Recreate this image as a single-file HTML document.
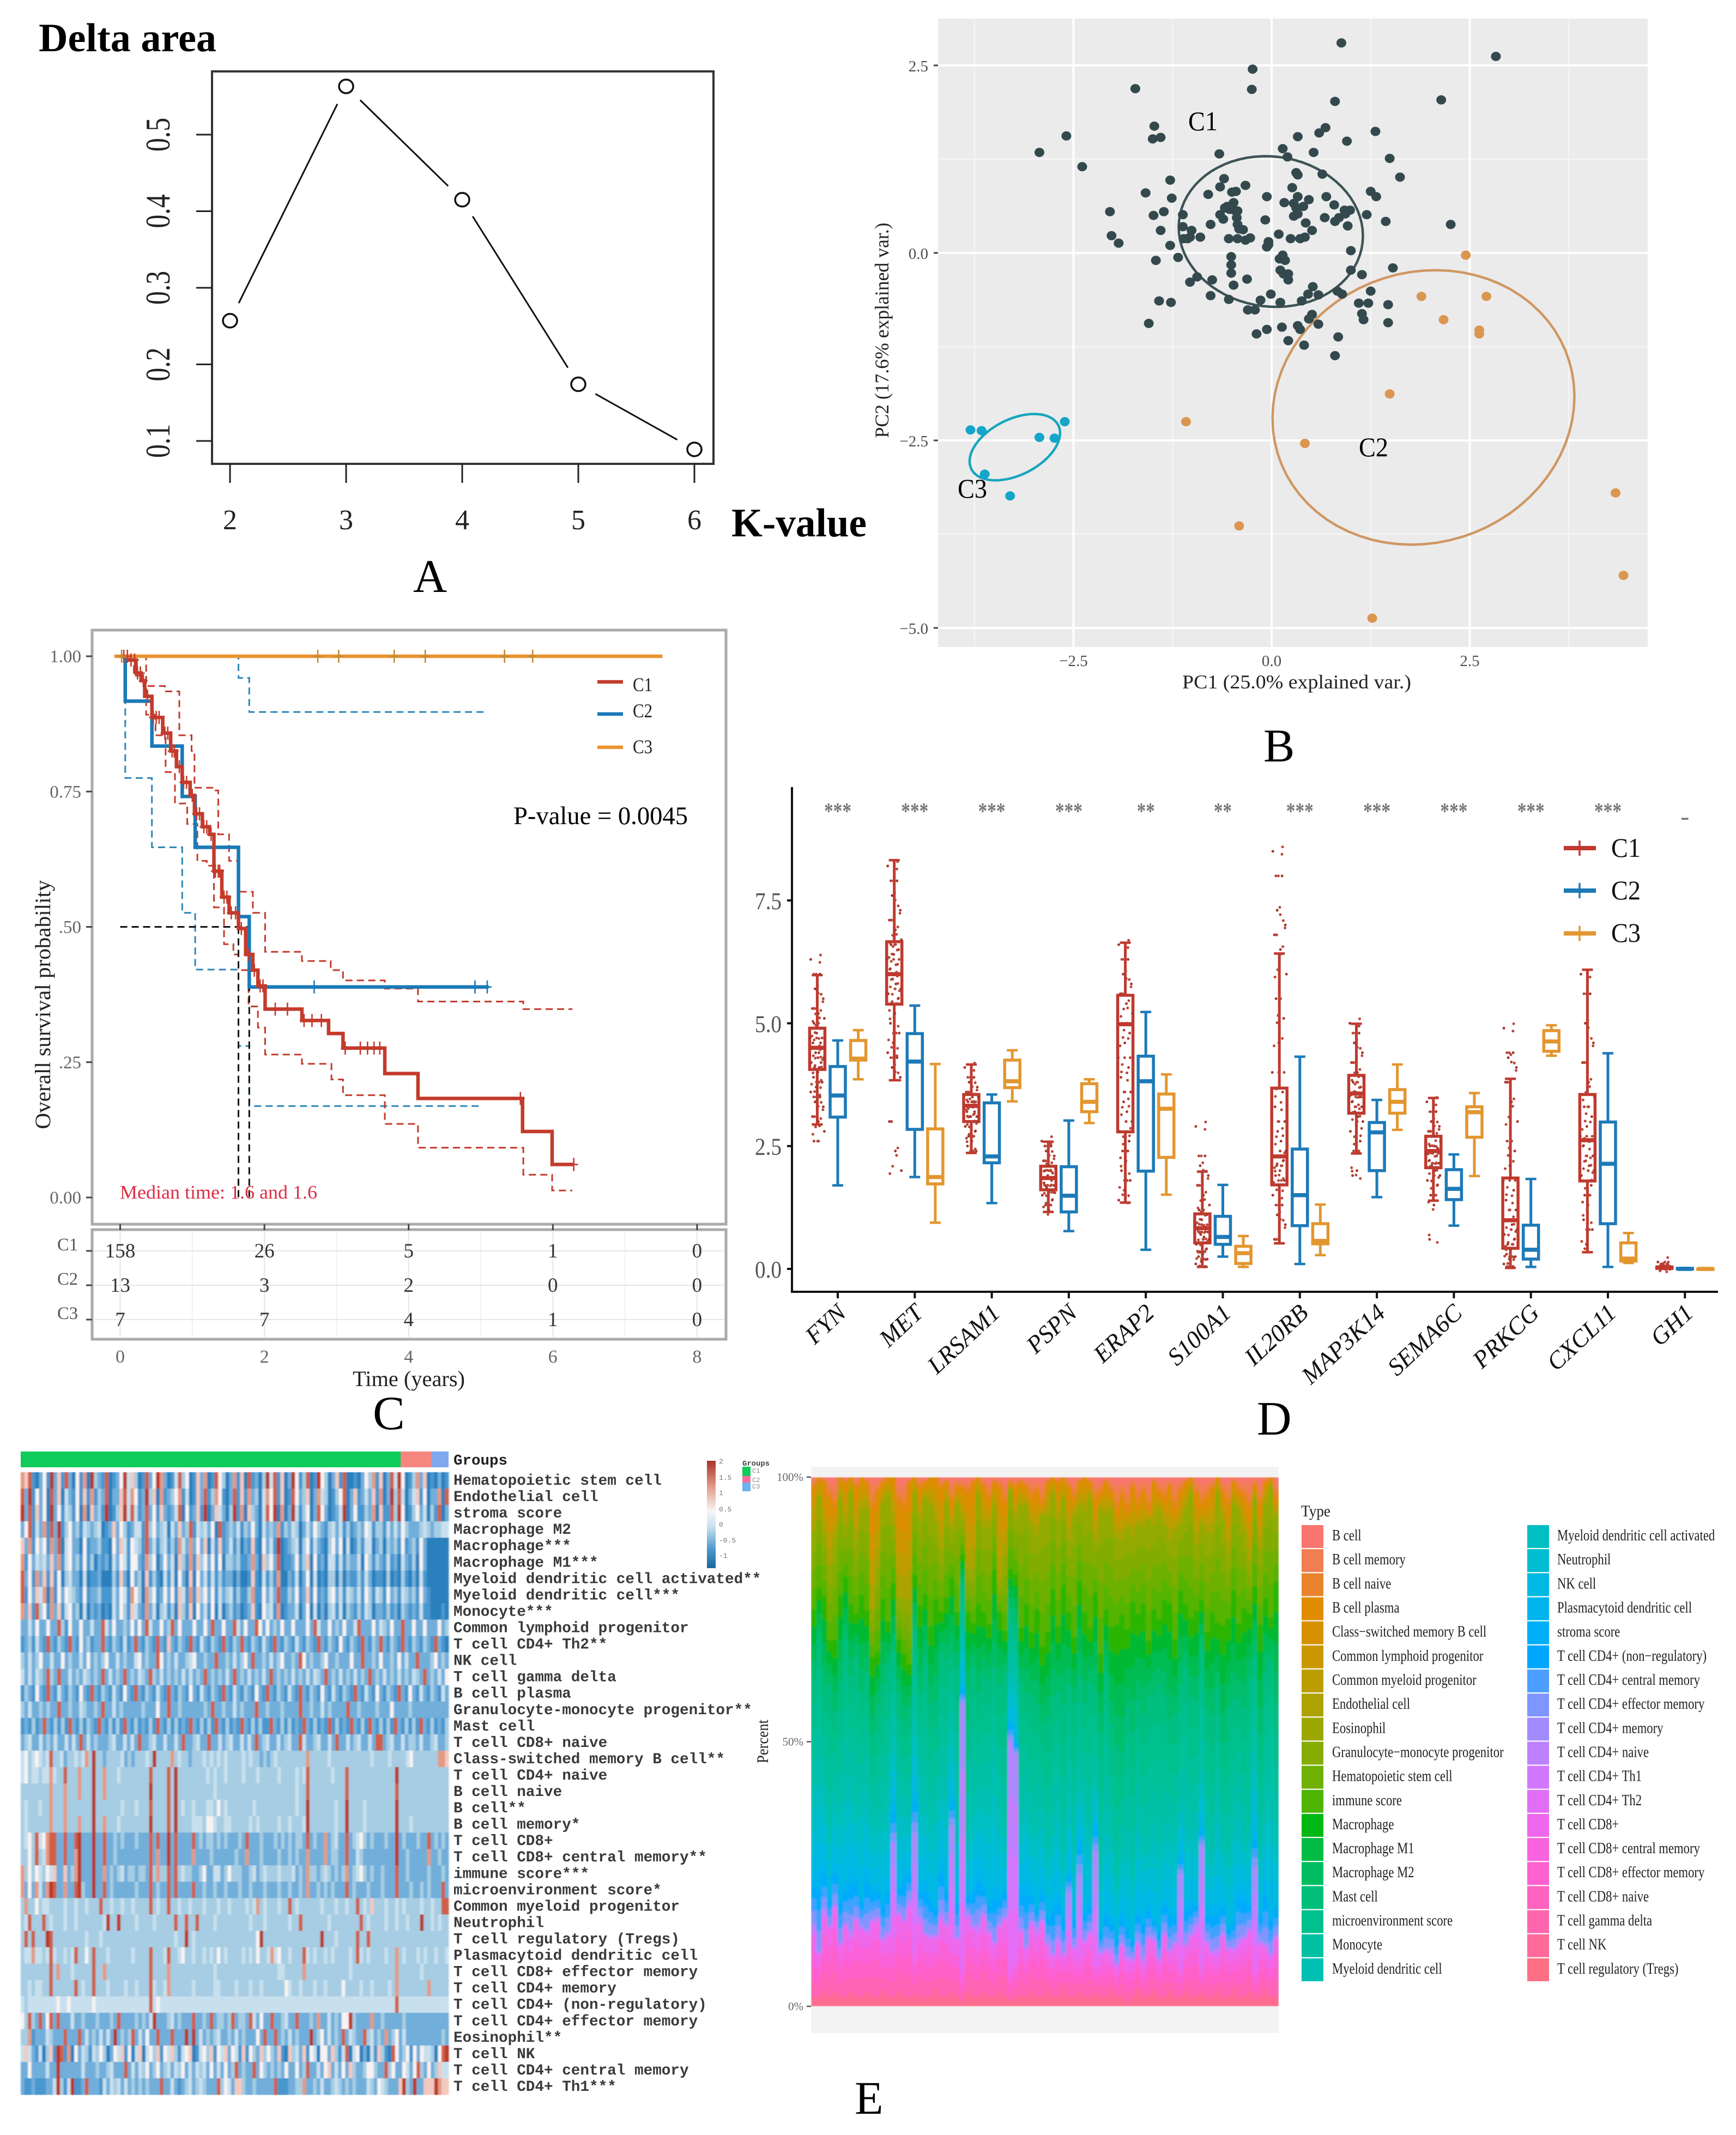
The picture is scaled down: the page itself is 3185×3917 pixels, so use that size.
<!DOCTYPE html>
<html lang="en">
<head>
<meta charset="utf-8">
<title>Five-panel cluster analysis figure</title>
<style>
html,body{margin:0;padding:0;background:#fff}
svg{display:block}
text{font-family:"Liberation Serif",serif}
</style>
</head>
<body>
<svg id="fig" xmlns="http://www.w3.org/2000/svg" width="3185" height="3917" viewBox="0 0 3185 3917">
<defs>
<filter id="soft" x="-2%" y="-2%" width="104%" height="104%"><feGaussianBlur stdDeviation="1.3 0.4"/></filter>
<filter id="soft2" x="-1%" y="-1%" width="102%" height="102%"><feGaussianBlur stdDeviation="1.2 1.5"/></filter>
<linearGradient id="cbar" x1="0" y1="0" x2="0" y2="1">
<stop offset="0" stop-color="#a83428"/><stop offset=".24" stop-color="#e09a88"/><stop offset=".47" stop-color="#f8f6f6"/><stop offset=".62" stop-color="#c6dfee"/><stop offset=".82" stop-color="#4f9acb"/><stop offset="1" stop-color="#17689f"/>
</linearGradient>
</defs>
<rect width="3185" height="3917" fill="#fff"/>

<g id="panelA">
<text x="71" y="94" font-size="74" font-weight="bold" textLength="326" lengthAdjust="spacingAndGlyphs">Delta area</text>
<text x="1342" y="984" font-size="74" font-weight="bold" textLength="248" lengthAdjust="spacingAndGlyphs">K-value</text>
<text x="758" y="1086" font-size="86">A</text>
</g>
<g id="panelB"></g>
<g id="panelC"></g>
<g id="panelD"></g>
<g id="panelE1"></g>
<g id="panelE2"></g>
</svg>

<script>
/* ---------- Panel A data ---------- */
const kValues = [2,3,4,5,6];
const deltaArea = [0.257,0.563,0.415,0.174,0.089];
const deltaTicks = [0.1,0.2,0.3,0.4,0.5];

/* ---------- Panel B data ---------- */
const pcaC1 = [[.88,2.80],[2.83,2.62],[-.24,2.45],[-.25,2.18],[-1.72,2.19],[.80,2.02],[2.14,2.04],[-1.48,1.69],[-1.50,1.52],[-1.40,1.54],[-2.59,1.56],[-2.93,1.34],[-2.39,1.15],[.33,1.55],[.60,1.60],[.68,1.67],[1.31,1.62],[.95,1.49],[.14,1.39],[.53,1.34],[-.66,1.32],[.20,1.28],[1.49,1.26],[.31,1.07],[.33,1.04],[.64,1.05],[1.62,1.01],[-1.28,.97],[-.60,.99],[-.65,.88],[-.33,.90],[-.50,.81],[-.45,.82],[-1.59,.80],[-.80,.78],[-1.26,.73],[-.06,.75],[.26,.87],[.33,.75],[.47,.71],[.69,.75],[1.25,.82],[1.32,.75],[.16,.67],[.28,.66],[.31,.60],[.40,.62],[.79,.64],[-.48,.67],[-.56,.62],[-.59,.60],[-.53,.58],[-.47,.57],[-.43,.56],[.92,.57],[.99,.57],[.93,.52],[-2.04,.55],[-1.36,.55],[-1.49,.50],[-1.12,.51],[-.65,.51],[-.61,.45],[-.44,.47],[.67,.47],[.85,.47],[.80,.42],[1.20,.51],[1.44,.42],[.28,.49],[.33,.52],[.43,.40],[-.08,.44],[2.26,.38],[-.77,.38],[-1.12,.35],[-.43,.38],[-.41,.32],[-.36,.31],[-1.40,.30],[-1.01,.30],[.96,.36],[.51,.30],[.09,.25],[-2.02,.23],[-1.93,.13],[-1.11,.19],[-1.06,.19],[-1.03,.21],[-.90,.21],[-.54,.19],[-.43,.19],[-.33,.17],[-.27,.20],[.24,.19],[.36,.19],[.42,.21],[-1.28,.10],[-.04,.15],[-.06,.08],[-.04,.11],[1.00,.03],[-1.46,-.10],[-1.18,-.06],[-.51,-.05],[.14,-.03],[.10,-.08],[.17,-.10],[-.51,-.16],[1.53,-.20],[1.00,-.23],[1.14,-.29],[.11,-.23],[.15,-.28],[-.51,-.27],[.21,-.28],[.21,-.36],[-.94,-.32],[-1.03,-.39],[-.75,-.36],[-.31,-.35],[-.48,-.43],[.52,-.45],[1.25,-.51],[-.77,-.57],[-.01,-.55],[.46,-.55],[.59,-.56],[.83,-.51],[.89,-.55],[-1.42,-.64],[-1.27,-.66],[-.54,-.62],[-.14,-.63],[.11,-.66],[.38,-.64],[1.10,-.67],[1.22,-.67],[1.47,-.69],[-.30,-.76],[-.21,-.76],[.51,-.82],[.47,-.88],[1.14,-.81],[1.16,-.89],[.59,-.95],[1.47,-.93],[-1.55,-.94],[.33,-.97],[.36,-1.02],[.13,-.99],[-.06,-1.02],[-.19,-1.08],[.84,-1.12],[.21,-1.17],[.41,-1.23],[.80,-1.37]];
const pcaC2 = [[2.45,-.03],[1.89,-.58],[2.71,-.58],[2.17,-.89],[2.62,-1.03],[2.62,-1.08],[1.49,-1.88],[-1.08,-2.25],[.42,-2.54],[4.34,-3.20],[-.41,-3.64],[4.44,-4.30],[1.27,-4.87]];
const pcaC3 = [[-2.61,-2.25],[-3.80,-2.36],[-3.66,-2.37],[-2.93,-2.46],[-2.74,-2.47],[-3.62,-2.95],[-3.30,-3.24]];
const pcaTicks = [-5,-2.5,0,2.5];
const pcaXTicks = [-2.5,0,2.5];
const pcaCentres = {C1:[-.01,.285],C2:[1.916,-2.06],C3:[-3.24,-2.59]};

/* ---------- Panel C data ---------- */
const survTicksY = [0,.25,.5,.75,1];
const survLabelsY = ['0.00','.25','.50','0.75','1.00'];
const survTicksX = [0,2,4,6,8];
const c1Times = [.12,.22,.29,.34,.44,.59,.70,.78,.86,.97,1.03,1.14,1.24,1.30,1.41,1.51,1.64,1.74,1.84,1.91,2.01,2.52,2.89,3.09,3.67,4.13,5.58,5.99];
const c1Surv = [.993,.969,.955,.926,.887,.858,.825,.796,.767,.743,.709,.685,.671,.603,.555,.526,.497,.449,.42,.391,.348,.327,.303,.276,.229,.183,.122,.061];
const c1End = 6.29;
const c1Censor = [.05,.1,.15,.2,.24,.28,.32,.38,.46,.5,.54,.62,.66,.72,.75,.82,.88,.92,1.0,1.06,1.1,1.16,1.2,1.26,1.32,1.36,1.38,1.44,1.48,1.54,1.6,1.68,1.78,1.86,1.94,1.98,2.15,2.32,2.55,2.66,2.79,3.12,3.33,3.43,3.52,3.60,5.55,6.29];
const c1UpT = [.36,.62,.82,.99,1.03,1.28,1.36,1.51,1.64,1.84,2.01,2.52,2.92,3.09,3.67,4.13,5.59];
const c1UpS = [.945,.935,.854,.825,.757,.752,.671,.622,.565,.526,.454,.437,.42,.401,.386,.362,.348];
const c1LoT = [.19,.36,.49,.63,.76,.93,1.07,1.20,1.30,1.44,1.57,1.64,1.78,1.91,2.01,2.52,2.93,3.09,3.67,4.13,5.59,5.99];
const c1LoS = [.964,.892,.854,.786,.728,.69,.622,.613,.536,.468,.449,.42,.353,.314,.264,.247,.218,.189,.136,.092,.042,.013];
const c2Times = [.07,.44,.86,1.04,1.64,1.79];
const c2Surv = [.917,.834,.741,.647,.519,.389];
const c2End = 5.11;
const c2Censor = [2.69,4.92,5.09];
const c2UpT = [1.64,1.79];
const c2UpS = [.96,.897];
const c2UpEnd = 5.05;
const c2LoT = [.07,.44,.86,1.04,1.64,1.79];
const c2LoS = [.775,.647,.526,.421,.28,.169];
const c2LoEnd = 5.02;
const c3End = 7.52;
const c3Censor = [.02,2.74,3.03,3.80,4.23,5.33,5.72];
const medianTimes = [1.64,1.79];
const riskGroups = ['C1','C2','C3'];
const riskC1 = [158,26,5,1,0];
const riskC2 = [13,3,2,0,0];
const riskC3 = [7,7,4,1,0];

/* ---------- Panel D data ---------- */
const genes = ['FYN','MET','LRSAM1','PSPN','ERAP2','S100A1','IL20RB','MAP3K14','SEMA6C','PRKCG','CXCL11','GH1'];
const significance = ['***','***','***','***','**','**','***','***','***','***','***','-'];
const boxTicks = [0,2.5,5,7.5];
const boxC1 = [[5.98,4.90,4.50,4.06,2.94],[8.32,6.66,6.0,5.39,3.84],[4.16,3.55,3.32,3.0,2.36],[2.59,2.09,1.85,1.61,1.16],[6.64,5.57,4.98,2.79,1.35],[1.98,1.12,.83,.53,.04],[6.42,3.68,2.29,1.71,.52],[4.99,3.94,3.57,3.17,2.35],[3.48,2.70,2.40,2.06,1.39],[3.87,1.85,.99,.42,.02],[6.09,3.55,2.62,1.79,.34],[.06,.04,.03,.01,0]];
const boxC2 = [[4.65,4.12,3.53,3.09,1.70],[5.36,4.79,4.22,2.84,1.87],[3.55,3.38,2.29,2.16,1.34],[3.02,2.08,1.49,1.16,.77],[5.23,4.33,3.82,1.99,.39],[1.71,1.07,.65,.50,.25],[4.32,2.44,1.50,.88,.10],[3.44,2.98,2.78,2.0,1.46],[2.33,2.02,1.63,1.41,.88],[1.83,.89,.39,.20,.04],[4.39,2.99,2.14,.92,.04],[.02,.01,0,0,0]];
const boxC3 = [[4.86,4.65,4.28,4.25,3.86],[4.17,2.85,1.87,1.73,.94],[4.45,4.25,3.82,3.69,3.41],[3.86,3.77,3.40,3.2,2.97],[3.96,3.56,3.26,2.27,1.51],[.67,.46,.32,.11,.04],[1.31,.92,.57,.51,.28],[4.16,3.65,3.40,3.17,2.83],[3.58,3.30,3.19,2.68,1.89],[4.96,4.85,4.63,4.43,4.34],[.73,.53,.21,.16,.12],[.01,0,0,0,0]];
const dotsFYN = [6.3,6.0,5.7,5.5,5.3,5.2,5.1,5.0,4.9,4.8,4.7,4.6,4.6,4.5,4.4,4.4,4.3,4.2,4.2,4.1,4.0,3.9,3.8,3.7,3.6,3.5,3.4,3.3,3.1,3.0,2.8,2.6];
const dotsMET = [8.2,7.9,7.6,7.3,7.1,6.9,6.7,6.6,6.5,6.4,6.3,6.2,6.1,6.0,5.9,5.8,5.7,5.6,5.5,5.4,5.2,5.0,4.8,4.6,4.4,4.3,4.1,3.9,3.0,2.4,2.0];
const dotsLRSAM1 = [4.1,3.9,3.8,3.7,3.6,3.5,3.5,3.4,3.4,3.3,3.3,3.2,3.2,3.1,3.1,3.0,3.0,2.9,2.8,2.7,2.6,2.5,2.4];
const dotsPSPN = [2.6,2.5,2.4,2.3,2.2,2.1,2.05,2.0,1.95,1.9,1.85,1.8,1.75,1.7,1.65,1.6,1.55,1.5,1.4,1.3,1.2];
const dotsERAP2 = [6.6,6.3,6.0,5.8,5.6,5.4,5.2,5.0,4.8,4.6,4.3,4.1,3.9,3.6,3.4,3.2,3.0,2.8,2.6,2.4,2.2,2.0,1.8,1.6,1.4];
const dotsS100A1 = [2.9,2.3,2.1,1.9,1.7,1.5,1.3,1.2,1.1,1.0,.9,.85,.8,.75,.7,.65,.6,.5,.4,.35,.3,.25,.2,.15,.1,.05];
const dotsIL20RB = [8.5,8.0,7.3,7.0,6.8,6.5,6.0,5.5,5.1,4.6,4.0,3.6,3.3,3.0,2.8,2.6,2.4,2.3,2.2,2.1,2.0,1.9,1.8,1.7,1.5,1.3,1.1,.9,.6];
const dotsMAP3K14 = [5.0,4.8,4.6,4.4,4.2,4.0,3.9,3.8,3.7,3.6,3.5,3.5,3.4,3.3,3.2,3.1,3.0,2.8,2.6,2.4,2.0,1.9];
const dotsSEMA6C = [3.4,3.2,3.0,2.9,2.8,2.7,2.6,2.5,2.45,2.4,2.35,2.3,2.2,2.15,2.1,2.0,1.9,1.8,1.7,1.5,1.3,.6];
const dotsPRKCG = [4.9,4.4,4.3,4.1,3.8,3.4,3.0,2.6,2.4,2.1,1.8,1.6,1.4,1.2,1.0,.9,.8,.7,.6,.5,.4,.3,.25,.2,.1,.05];
const dotsCXCL11 = [6.0,5.6,5.0,4.6,4.2,3.8,3.5,3.3,3.1,2.9,2.7,2.6,2.5,2.3,2.2,2.1,2.0,1.9,1.7,1.5,1.3,1.0,.8,.5];
const dotsGH1 = [.14,.1,.08,.05,.04,.03,.02,.01];
const dotsPerGene = [dotsFYN,dotsMET,dotsLRSAM1,dotsPSPN,dotsERAP2,dotsS100A1,dotsIL20RB,dotsMAP3K14,dotsSEMA6C,dotsPRKCG,dotsCXCL11,dotsGH1];
const jitterPattern = [-12,5,-4,11,-9,2,13,-6,8,-1,-13,6,-8,10,-3,3,12,-11,7,-5,1,-7,9,-2];

/* ---------- Panel E heatmap data (digit d means value -1 + d/3) ---------- */
const heatLabels = ['Hematopoietic stem cell','Endothelial cell','stroma score','Macrophage M2','Macrophage***','Macrophage M1***','Myeloid dendritic cell activated**','Myeloid dendritic cell***','Monocyte***','Common lymphoid progenitor','T cell CD4+ Th2**','NK cell','T cell gamma delta','B cell plasma','Granulocyte-monocyte progenitor**','Mast cell','T cell CD8+ naive','Class-switched memory B cell**','T cell CD4+ naive','B cell naive','B cell**','B cell memory*','T cell CD8+','T cell CD8+ central memory**','immune score***','microenvironment score*','Common myeloid progenitor','Neutrophil','T cell regulatory (Tregs)','Plasmacytoid dendritic cell','T cell CD8+ effector memory','T cell CD4+ memory','T cell CD4+ (non-regulatory)','T cell CD4+ effector memory','Eosinophil**','T cell NK','T cell CD4+ central memory','T cell CD4+ Th1***'];
const heatRows = [
"768102519261820517093218012594630182597201483501627018530271608120394816029513801953026180010253716028495013726010201",
"829152508260421516171328022684751293607123571401628137510281617230475816018523602743013580261242617029384024615022708",
"928162509251431507062319013694841282516212480512619026420391706320485907029413502852012490251132706118395013524031802",
"258142718291352314323401262531244183523404262381434250812324132520423271324302425321342413123254133142425322234323344",
"627153517280452205122311052641543182413413174272526041612413021610524190123403514210352504013144023032315123152000000",
"715243426271452315130212042541552173502524063171635251503323112720635280112513605120441413224053132141204213052000000",
"825172616150342204011200031620523061310414052060524141312202001610413170021402504010330302113142011030103102041000000",
"815264707152543215122311142541753073512525164171635251423413113711524281132512615121452414324153143152314323152100000",
"726183517261452304021201042531642172403413063160524150402312012610534170122402504020341403213143022131203212141100010",
"224252252283152252242284252232525284225238252225225282252284252285252325225222528422523252248222524325228225225222523",
"123142182132182152312282132141282132182162132182142132182132821321421821321421321821321521321821328213218213213218210",
"324235224225232242523235224232245232285232422345223228223242352822324235223285232235223222522822325223252422822235232",
"424243283282242324323282423282324328324232324242328232324282324232428232324232424328232423242328232423242324328232425",
"132152182142132152182132142152182132142182132152142132182142132152182132142182132152142132182142152132182152142132142",
"324223232282232243223282242322222322252282232222223282232242322282232223222282232242322228223222232225222232222222222",
"121312821313182131321821313182131213182131312182131318213121821313118213131218213121813121821318213131821313182131213",
"234224232422424282423222342242428223422422428223422822423422424282342242342284223422428224234224288234224233242234223",
"4534543483 3423343473 9332333342 3233343933 3373433233 3434343433 3343433232 3433333333 7333334333 3333333343 3334333345 3333333776",
"4534434474 3383337333 9337333433 3333338333 3839333333 3343433433 3343334333 3343333434 8333333433 3833333333 3333393333 3333333333",
"3333333373 3373337333 9337333333 3333339333 3839333333 3333433333 3333333333 3333333433 8333333333 3833333333 3333383333 3333333333",
"3433343373 3373333333 9333333343 3343338333 3839343343 3344353433 3333343333 3333333433 9333333343 3933334333 3333393333 3333333333",
"3433333373 3373337333 9337333433 3333339333 3839333344 4355433443 3333434333 3343343334 9333333343 3933334333 3333393334 3333333333",
"3453845788 2282289222 9228223232 2232228282 2928222282 3233232322 2328222322 2323232332 8232272342 2823453232 2232292322 2322823232",
"3353834788 2282279222 9228223222 2222228272 2928222272 2223222222 3227222322 2232232322 7222272332 2822432222 2222292232 2222722322",
"7353543546 2262379222 9227232342 3323328373 3828343322 3522442353 3322342343 3343334232 7332343232 3723453232 2322282232 2222322232",
"7252742798 2272289322 9228232222 2232228232 2828222282 2322322322 2322322232 2232232232 7223232322 2823222322 2322282223 2232322282",
"3733534433 3343343343 3383343343 3433338343 3833433433 3433343343 3334347343 3343383433 3333433343 3433834363 3343343433 3343343388",
"3483338343 3343343333 3334933933 3343333433 3338338338 3333433333 3333433343 3333343383 3333334333 3333383433 3343343343 3393343433",
"3838333983 3333333343 3343333333 3333333333 3334339343 3333333333 3333335933 3333333333 3333933343 3333833833 3333333333 3333333333",
"3447443484 3343483353 8333433333 3433338333 4833453343 3434353433 3343435334 7453343338 4343343433 3343843433 3343373433 3434334334",
"3333333383 7333433333 8337333333 3333338333 3733333333 3333433333 3333333333 3344333337 3333333333 3343333333 3333373333 3343333333",
"3343443383 3333383433 8333433334 3343338433 4733333343 3333443333 4333433433 3333543343 3343343333 5333343343 3334373333 3333733333",
"4344444444 5445444444 5444444444 4444448454 4444444444 4444444444 4444444444 4444444444 4444444444 4444444444 4444484444 4444444444",
"5383282582 8222422322 2322232822 2232324922 2342322282 2328233238 2332842522 8223422822 2327224232 5593222272 2322222322 2222222222",
"3371222432 2282228242 3242429232 3824252282 2282229292 4232342232 4232225282 2823242322 2923524232 8243228342 3272352422 2222222232",
"4642140361 9817052431 4353025461 5046045361 5463145601 4536154625 4161532635 3261063426 1540552631 4804502041 6310852351 5254430589",
"2252222422 9222222422 2322342228 2424352352 3424352424 3425242523 8232282532 3232522523 8224256242 5263223553 2283522542 5832523644",
"2112111224 9314911282 2214243424 2323232228 2242123423 4322283542 6632232222 2811122337 2232422343 2323222432 5432226932 9226669766"
];

/* ---------- Panel E stacked bar data: raw share of each colour band, per sample ---------- */
const stackSalmon = [2,0,1,4,6,0,1,0,2,0,1,6,3,1,0,0,5,6,1,0,2,1,
0,0,2,1,5,2,4,3,1,0,2,4,1,2,5,2,3,1,2,4,3,5,
1,0,1,0,2,4,1,0,1,5,3,1,3,6,4,6,2,5,3,6,1,3,
4,2,6,3,1,0,3,6,4,2,0,3,5,1,3,4,6,2,5,1,0,4];
const stackOrange = [9,4,10,12,6,4,8,3,10,6,5,18,14,4,3,10,18,16,22,4,6,3,
5,8,12,4,6,3,10,14,16,3,8,5,4,18,10,2,9,4,3,5,8,2,
6,3,7,4,10,3,5,6,3,9,3,6,3,5,8,3,9,4,6,2,8,3,
5,10,4,7,5,3,9,4,6,8,3,5,9,4,3,6,10,3,8,4,2,3];
const stackOlive = [16,18,12,14,20,18,10,22,14,16,20,9,16,18,24,12,8,10,12,20,16,18,
22,14,12,18,10,20,12,8,10,20,16,18,12,6,14,24,16,22,18,20,14,24,
22,18,20,16,14,22,16,18,24,12,26,18,22,16,14,18,12,16,14,22,16,20,
14,12,20,14,18,22,12,16,18,14,24,20,12,16,22,14,10,20,14,18,24,12];
const stackGreen = [14,10,18,8,14,16,12,14,8,18,12,14,10,16,8,14,10,12,8,14,16,12,
14,18,8,12,16,10,10,14,8,16,12,10,18,14,8,12,14,10,16,12,18,14,
16,20,12,22,14,12,20,16,10,22,14,12,18,22,26,14,24,16,20,10,16,12,
18,22,14,20,12,14,16,10,14,18,12,22,16,20,14,18,12,16,20,14,8,22];
const stackMint = [22,24,18,26,16,22,26,20,28,18,22,16,20,24,22,18,20,14,18,22,16,26,
20,18,24,22,16,24,18,26,24,18,22,20,18,24,28,20,16,22,18,24,20,16,
24,22,20,28,20,24,22,18,26,20,22,26,20,24,18,22,24,20,22,26,24,28,
24,20,22,24,26,22,20,26,22,24,20,18,26,22,20,24,28,22,20,26,24,22];
const stackTeal = [18,22,16,12,14,16,20,18,14,20,16,12,14,16,18,14,16,14,12,18,20,16,
14,18,16,20,14,18,16,12,16,14,18,20,22,16,12,14,18,14,16,12,18,14,
12,16,18,10,16,14,12,18,14,10,14,18,16,10,12,16,14,18,14,12,18,16,
14,16,14,12,18,14,16,12,14,10,20,12,14,18,16,10,14,18,12,14,22,14];
const stackBlue = [10,16,8,6,8,10,8,12,8,6,12,6,6,8,10,8,6,8,6,10,6,10,
8,6,10,8,6,8,6,4,8,10,6,6,10,6,6,6,4,8,12,6,4,6,
6,10,8,8,4,6,8,6,6,6,4,8,6,6,6,6,4,6,8,6,4,6,
6,8,6,4,8,6,4,4,6,8,8,6,4,6,10,8,6,8,6,12,8,6];
const stackViolet = [3,1,2,1,1,1,1,2,1,1,1,1,1,1,1,20,1,1,2,30,2,1,
1,1,2,1,24,1,90,1,1,2,1,1,1,1,1,70,60,1,1,1,2,1,
1,1,2,1,10,1,18,1,1,26,1,1,2,1,1,1,1,1,2,1,1,1,
1,1,1,20,1,1,2,26,1,1,2,1,1,1,2,1,1,24,1,1,1,1];
const stackMagenta = [12,8,14,12,16,9,13,10,14,12,11,13,14,9,11,12,14,13,16,10,13,11,
10,9,14,13,11,10,10,13,12,11,14,11,9,12,14,9,10,11,8,12,11,13,
8,7,9,6,10,8,7,9,11,6,7,8,6,5,9,7,6,8,5,10,9,6,
11,7,9,6,8,10,11,5,9,7,6,11,8,7,9,10,11,6,9,8,7,10];
const stackPink = [2,2,3,2,3,2,2,3,2,2,3,2,2,3,2,2,3,2,2,3,2,2,
2,3,2,2,3,2,2,3,2,2,3,2,2,3,2,2,3,2,2,3,2,2,
3,2,2,3,2,2,3,2,2,3,2,2,3,2,2,1,2,3,2,2,3,2,
2,3,2,2,3,2,2,3,2,2,3,2,2,3,2,2,3,2,2,3,2,2];
const stackBands = [stackSalmon,stackOrange,stackOlive,stackGreen,stackMint,stackTeal,stackBlue,stackViolet,stackMagenta,stackPink];
const bandHueIndex = [0,3,8,11,14.5,17,21,26,29.5,34];
const percentTicks = [0,50,100];
const typeLabels = ['B cell','B cell memory','B cell naive','B cell plasma','Class\u2212switched memory B cell','Common lymphoid progenitor','Common myeloid progenitor','Endothelial cell','Eosinophil','Granulocyte\u2212monocyte progenitor','Hematopoietic stem cell','immune score','Macrophage','Macrophage M1','Macrophage M2','Mast cell','microenvironment score','Monocyte','Myeloid dendritic cell','Myeloid dendritic cell activated','Neutrophil','NK cell','Plasmacytoid dendritic cell','stroma score','T cell CD4+ (non\u2212regulatory)','T cell CD4+ central memory','T cell CD4+ effector memory','T cell CD4+ memory','T cell CD4+ naive','T cell CD4+ Th1','T cell CD4+ Th2','T cell CD8+','T cell CD8+ central memory','T cell CD8+ effector memory','T cell CD8+ naive','T cell gamma delta','T cell NK','T cell regulatory (Tregs)'];

/* ---------- helpers ---------- */
const NS = 'http://www.w3.org/2000/svg';
function mk(tag, attrs, parent){
  const e = document.createElementNS(NS, tag);
  for(const k in attrs) e.setAttribute(k, attrs[k]);
  parent.appendChild(e);
  return e;
}
function T(parent, x, y, str, o){
  o = o || {};
  const a = {'font-size':o.size||30, fill:o.fill||'#000', 'text-anchor':o.anchor||'start'};
  let tf = 'translate('+x+','+y+')';
  if(o.rot) tf += ' rotate('+o.rot+')';
  if(o.sy) tf += ' scale(1,'+o.sy+')';
  a.transform = tf;
  if(o.len){a.textLength = o.len; a.lengthAdjust = 'spacingAndGlyphs';}
  if(o.weight) a['font-weight'] = o.weight;
  if(o.italic) a['font-style'] = 'italic';
  if(o.mono) a.style = 'font-family:"Liberation Mono",monospace';
  const e = mk('text', a, parent);
  e.textContent = str;
  return e;
}
function hueColor(i, n){
  const h = (15 + 360*i/n)*Math.PI/180, c = 100, l = 65;
  const U = c*Math.cos(h), V = c*Math.sin(h);
  const Y = Math.pow((l+16)/116, 3);
  const u = U/(13*l) + 0.19784, v = V/(13*l) + 0.46834;
  const X = 9*Y*u/(4*v), Z = -X/3 - 5*Y + 3*Y/v;
  const lin = [3.2406*X-1.5372*Y-.4986*Z, -.9689*X+1.8758*Y+.0415*Z, .0557*X-.204*Y+1.057*Z];
  const g = lin.map(t=>{t=Math.max(0,Math.min(1,t));return Math.round(255*(t<=.0031308?12.92*t:1.055*Math.pow(t,1/2.4)-.055));});
  return 'rgb('+g.join(',')+')';
}

/* ---------- Panel A ---------- */
(function(){
  const P = document.getElementById('panelA');
  const ax = k => 422 + (k-2)*213;
  const ay = v => 809 - (v-.1)*1405;
  const box = mk('rect',{x:389,y:131,width:920,height:720,fill:'none',stroke:'#333','stroke-width':4},P);
  
  
  kValues.forEach(k=>{
    const t = mk('line',{x1:ax(k),x2:ax(k),y1:851,y2:886,stroke:'#222','stroke-width':3},P);
    
    
    const l = T(P,ax(k),971,String(k),{size:52,anchor:'middle',fill:'#222'});
    
    
  });
  deltaTicks.forEach(v=>{
    const t = mk('line',{x1:360,x2:389,y1:ay(v),y2:ay(v),stroke:'#222','stroke-width':3},P);
    
    
    const l = T(P,311,ay(v),v.toFixed(1),{size:64,anchor:'middle',fill:'#222',rot:-90,len:62});
    
    
  });
  kValues.forEach((k,i)=>{
    if(i<kValues.length-1){
      const x1=ax(k),y1=ay(deltaArea[i]),x2=ax(kValues[i+1]),y2=ay(deltaArea[i+1]);
      const d=Math.hypot(x2-x1,y2-y1),g=36/d;
      const s = mk('line',{x1:x1+(x2-x1)*g,y1:y1+(y2-y1)*g,x2:x2-(x2-x1)*g,y2:y2-(y2-y1)*g,stroke:'#111','stroke-width':3},P);
      
      
    }
    const c = mk('ellipse',{cx:ax(k),cy:ay(deltaArea[i]),rx:13,ry:12.5,fill:'#fff',stroke:'#111','stroke-width':3.5},P);
    
    
  });
})();

/* ---------- Panel B ---------- */
(function(){
  const P = document.getElementById('panelB');
  const bx = v => 2333 + v*145.4;
  const by = v => 464 - v*137.6;
  const bg = mk('rect',{x:1721,y:34,width:1302,height:1153,fill:'#ebebeb'},P);
  
  
  [-3.75,-1.25,1.25,3.75].forEach(v=>{
    const g = mk('line',{x1:bx(v),x2:bx(v),y1:34,y2:1187,stroke:'#f6f6f6','stroke-width':2},P);
    
    
  });
  [1.25,-1.25,-3.75].forEach(v=>{
    const g = mk('line',{y1:by(v),y2:by(v),x1:1721,x2:3023,stroke:'#f6f6f6','stroke-width':2},P);
    
    
  });
  pcaXTicks.forEach(v=>{
    const g = mk('line',{x1:bx(v),x2:bx(v),y1:34,y2:1187,stroke:'#fff','stroke-width':4},P);
    
    
    const l = T(P,bx(v),1222,(v<0?'\u2212':'')+Math.abs(v).toFixed(1),{size:29,anchor:'middle',fill:'#4d4d4d'});
    
    
  });
  pcaTicks.forEach(v=>{
    const g = mk('line',{y1:by(v),y2:by(v),x1:1721,x2:3023,stroke:'#fff','stroke-width':4},P);
    
    
    const t = mk('line',{y1:by(v),y2:by(v),x1:1713,x2:1721,stroke:'#444','stroke-width':3},P);
    
    
    const l = T(P,1703,by(v)+11,(v<0?'\u2212':'')+Math.abs(v).toFixed(1),{size:29,anchor:'end',fill:'#4d4d4d'});
    
    
  });
  function ell(centre, rx, ry, ky, col, name){
    let d='';
    for(let i=0;i<=72;i++){
      const t=i/72*2*Math.PI;
      const x=bx(centre[0])+rx*Math.cos(t);
      const y=by(centre[1])+ry*Math.sin(t)+ky*Math.cos(t);
      d+=(i?'L':'M')+x.toFixed(1)+' '+y.toFixed(1);
    }
    const e = mk('path',{d:d+'Z',fill:'none',stroke:col,'stroke-width':4.5},P);
    
    
  }
  ell(pcaCentres.C1,169,138,8,'#3d5356','c1-ellipse');
  ell(pcaCentres.C2,277,251,-20,'#cf9762','c2-ellipse');
  ell(pcaCentres.C3,83,55,-26,'#17a6bd','c3-ellipse');
  pcaC1.forEach(p=>{
    const c = mk('ellipse',{cx:bx(p[0]),cy:by(p[1]),rx:9,ry:8.5,fill:'#33494d'},P);
    
    
  });
  pcaC2.forEach(p=>{
    const c = mk('ellipse',{cx:bx(p[0]),cy:by(p[1]),rx:9,ry:8.5,fill:'#db9650'},P);
    
    
  });
  pcaC3.forEach(p=>{
    const c = mk('ellipse',{cx:bx(p[0]),cy:by(p[1]),rx:9,ry:8.5,fill:'#14a5c9'},P);
    
    
  });
  [['C1',2180,239],['C2',2493,837],['C3',1757,913]].forEach(a=>{
    const l = T(P,a[1],a[2],a[0],{size:50,len:54});
    
    
  });
  const xl = T(P,2169,1263,'PC1 (25.0% explained var.)',{size:36,len:420,fill:'#222'});
  
  
  const yl = T(P,1630,606,'PC2 (17.6% explained var.)',{size:36,anchor:'middle',rot:-90,len:395,fill:'#222'});
  
  
  const pl = T(P,2318,1397,'B',{size:86});
  
  
})();

/* ---------- Panel C ---------- */
(function(){
  const P = document.getElementById('panelC');
  const sx = t => 220.5 + t*132.3;
  const sy = s => 2197 - s*993;
  const f = mk('rect',{x:169,y:1156,width:1163,height:1090,fill:'#fff',stroke:'#aaa','stroke-width':5},P);
  
  
  const f2 = mk('rect',{x:169,y:2256,width:1163,height:201,fill:'#fff',stroke:'#aaa','stroke-width':5},P);
  
  
  [1,3,5,7].forEach(v=>{
    const g = mk('line',{x1:sx(v),x2:sx(v),y1:2258,y2:2455,stroke:'#f2f2f2','stroke-width':2},P);
    
    
  });
  survTicksX.forEach(v=>{
    const g = mk('line',{x1:sx(v),x2:sx(v),y1:2258,y2:2455,stroke:'#e6e6e6','stroke-width':2},P);
    
    
    const t = mk('line',{x1:sx(v),x2:sx(v),y1:2246,y2:2257,stroke:'#444','stroke-width':3},P);
    
    
    const l = T(P,sx(v),2500,String(v),{size:34,anchor:'middle',fill:'#666'});
    
    
  });
  survTicksY.forEach((v,i)=>{
    const t = mk('line',{y1:sy(v),y2:sy(v),x1:158,x2:169,stroke:'#444','stroke-width':3},P);
    
    
    const l = T(P,149,sy(v)+11,survLabelsY[i],{size:33,anchor:'end',fill:'#666'});
    
    
  });
  function stepPath(times,surv,end){
    let d='M'+sx(0)+' '+sy(1),last=1;
    times.forEach((t,i)=>{d+='L'+sx(t).toFixed(1)+' '+sy(last).toFixed(1)+'L'+sx(t).toFixed(1)+' '+sy(surv[i]).toFixed(1);last=surv[i];});
    return d+'L'+sx(end).toFixed(1)+' '+sy(last).toFixed(1);
  }
  function at(times,surv,t){let s=1;times.forEach((u,i)=>{if(u<=t)s=surv[i];});return s;}
  function curve(d,col,w,dash,name){
    const a={d:d,fill:'none',stroke:col,'stroke-width':w};
    if(dash)a['stroke-dasharray']=dash;
    const e = mk('path',a,P);
    
    
  }
  const RED='#c33b2c',BLUE='#1a7ab8',ORG='#ea9430';
  curve(stepPath(c2UpT,c2UpS,c2UpEnd),'#2d87b8',3,'13 8','c2-upper-ci');
  curve(stepPath(c2LoT,c2LoS,c2LoEnd),'#2d87b8',3,'13 8','c2-lower-ci');
  curve(stepPath(c1UpT,c1UpS,c1End-.02),RED,3,'13 8','c1-upper-ci');
  curve(stepPath(c1LoT,c1LoS,c1End-.02),RED,3,'13 8','c1-lower-ci');
  const ml = mk('path',{d:'M'+sx(0)+' '+sy(.5)+'L'+sx(medianTimes[1])+' '+sy(.5)+'M'+sx(medianTimes[0])+' '+sy(.5)+'V'+sy(0)+'M'+sx(medianTimes[1])+' '+sy(.5)+'V'+sy(0),fill:'none',stroke:'#111','stroke-width':3,'stroke-dasharray':'13 8'},P);
  
  
  curve(stepPath(c2Times,c2Surv,c2End),BLUE,6.5,null,'c2-survival-curve');
  curve(stepPath(c1Times,c1Surv,c1End),RED,6.5,null,'c1-survival-curve');
  curve('M'+sx(-.08)+' '+sy(1)+'L'+sx(c3End)+' '+sy(1),ORG,6.5,null,'c3-survival-curve');
  function cens(list,times,surv,col,name){
    list.forEach(t=>{
      const y=sy(at(times,surv,t));
      const c = mk('path',{d:'M'+sx(t)+' '+(y-12)+'V'+(y+12)+'M'+(sx(t)-8)+' '+y+'H'+(sx(t)+8),stroke:col,'stroke-width':2.6,fill:'none'},P);
      
      
    });
  }
  cens(c1Censor,c1Times,c1Surv,RED,'c1-censor-mark');
  cens(c2Censor,c2Times,c2Surv,BLUE,'c2-censor-mark');
  cens(c3Censor,[],[],'#c08a3a','c3-censor-mark');
  [[RED,1251,'C1',1268],[BLUE,1310,'C2',1316],[ORG,1371,'C3',1382]].forEach(a=>{
    const s = mk('line',{x1:1096,x2:1143,y1:a[1],y2:a[1],stroke:a[0],'stroke-width':6.5},P);
    
    
    const l = T(P,1161,a[3],a[2],{size:36,len:36,fill:'#222'});
    
    
  });
  const pv = T(P,942,1512,'P-value = 0.0045',{size:47,len:320});
  
  
  const md = T(P,220,2199,'Median time: 1.6 and 1.6',{size:35,len:362,fill:'#dd2d45'});
  
  
  const yt = T(P,92,1843,'Overall survival probability',{size:40,anchor:'middle',rot:-90,len:457,fill:'#222'});
  
  
  const xt = T(P,647,2543,'Time (years)',{size:40,len:206,fill:'#222'});
  
  
  [riskC1,riskC2,riskC3].forEach((row,r)=>{
    const yy=[2295,2358,2421][r];
    const g = mk('line',{x1:171,x2:1330,y1:yy,y2:yy,stroke:'#e6e6e6','stroke-width':2},P);
    
    
    const tk = mk('line',{x1:158,x2:169,y1:yy,y2:yy,stroke:'#444','stroke-width':3},P);
    
    
    const rl = T(P,143,yy-1,riskGroups[r],{size:33,anchor:'end',len:38,fill:'#555'});
    
    
    row.forEach((n,i)=>{
      const c = T(P,sx(survTicksX[i]),yy+12,String(n),{size:37,anchor:'middle',fill:'#333'});
      
      
    });
  });
  const pl = T(P,684,2622,'C',{size:88});
  
  
})();

/* ---------- Panel D ---------- */
(function(){
  const P = document.getElementById('panelD');
  const catX = i => 1537 + i*141.3;
  const vy = v => 2328 - v*90.13;
  const ax = mk('path',{d:'M1453 1444V2370H3152',fill:'none',stroke:'#111','stroke-width':4},P);
  
  
  boxTicks.forEach(v=>{
    const t = mk('line',{x1:1444,x2:1453,y1:vy(v),y2:vy(v),stroke:'#111','stroke-width':4},P);
    
    
    const l = T(P,1434,vy(v)+16,v.toFixed(1),{size:44,anchor:'end',len:49,fill:'#555'});
    
    
  });
  const groups=[[boxC1,-37.6,'#c0392e','c1'],[boxC2,0,'#1d7ab8','c2'],[boxC3,37.6,'#e3962f','c3']];
  genes.forEach((g,i)=>{
    const cx=catX(i);
    const t = mk('line',{x1:cx,x2:cx,y1:2370,y2:2382,stroke:'#111','stroke-width':4},P);
    
    
    const l = T(P,cx+18,2412,g,{size:45,anchor:'end',italic:true,rot:-43,fill:'#111'});
    
    
    const sig=significance[i];
    const s = T(P,cx,sig==='-'?1512:1502,sig,{size:42,anchor:'middle',fill:'#777',weight:'bold',len:sig==='***'?50:sig==='**'?33:16});
    
    
    groups.forEach(G=>{
      const b=G[0][i],x=cx+G[1],c=G[2];
      const wh = mk('line',{x1:x,x2:x,y1:vy(b[0]),y2:vy(b[4]),stroke:c,'stroke-width':5},P);
      
      
      [b[0],b[4]].forEach(v=>{
        const cap = mk('line',{x1:x-10,x2:x+10,y1:vy(v),y2:vy(v),stroke:c,'stroke-width':4.5},P);
        
        
      });
      const r = mk('rect',{x:x-14,y:vy(b[1]),width:28,height:Math.max(1,vy(b[3])-vy(b[1])),fill:'#fff',stroke:c,'stroke-width':5.5},P);
      
      
      if(G[1]<0){
        dotsPerGene[i].forEach((v,k)=>{
          const d = mk('circle',{cx:x+jitterPattern[k%jitterPattern.length],cy:vy(v),r:2.5,fill:'#a8382e'},P);
          
          
          const d2 = mk('circle',{cx:x-jitterPattern[(k+7)%jitterPattern.length]*.8,cy:vy(v+((k%3)-1)*.06),r:2.5,fill:'#b8453a'},P);
          
          
          const d3 = mk('circle',{cx:x+jitterPattern[(k+13)%jitterPattern.length]*.6,cy:vy(v-((k%3)-1)*.09),r:2.5,fill:'#b8453a'},P);
          
          
        });
      }
      const m = mk('line',{x1:x-14,x2:x+14,y1:vy(b[2]),y2:vy(b[2]),stroke:c,'stroke-width':7.5},P);
      
      
    });
  });
  [['#c0392e',1556,'C1',1572],['#1d7ab8',1634,'C2',1650],['#e3962f',1712.5,'C3',1728]].forEach(a=>{
    const s = mk('path',{d:'M2869 '+a[1]+'H2928',stroke:a[0],'stroke-width':8,fill:'none'},P);
    
    
    const s2 = mk('path',{d:'M2898 '+(a[1]-14)+'V'+(a[1]+14),stroke:a[0],'stroke-width':3.5,fill:'none'},P);
    
    
    const l = T(P,2956,a[3],a[2],{size:50,len:54,fill:'#111'});
    
    
  });
  const pl = T(P,2306,2632,'D',{size:88});
  
  
})();

/* ---------- Panel E: heatmap ---------- */
(function(){
  const P = document.getElementById('panelE1');
  const hx0=38,hx1=823,hy0=2701,rowH=(3843-2701)/heatRows.length;
  const stops=[[-1,[42,128,189]],[-.667,[74,151,207]],[-.333,[114,174,218]],[0,[166,205,227]],[.333,[200,224,238]],[.667,[247,243,243]],[1,[243,201,191]],[1.333,[227,154,133]],[1.667,[207,95,72]],[2,[184,57,42]]];
  function heatColor(v){
    for(let i=1;i<stops.length;i++){
      if(v<=stops[i][0]){
        const a=stops[i-1],b=stops[i],t=Math.max(0,(v-a[0])/(b[0]-a[0]));
        return 'rgb('+a[1].map((c,k)=>Math.round(c+(b[1][k]-c)*t)).join(',')+')';
      }
    }
    return 'rgb(184,57,42)';
  }
  [['c1',38,735,'#0ecb5b'],['c2',735,791,'#f6877e'],['c3',791,823,'#7fa8ee']].forEach(a=>{
    const r = mk('rect',{x:a[1],y:2663,width:a[2]-a[1],height:29,fill:a[3]},P);
    
    
  });
  const cells = mk('g',{filter:'url(#soft)'},P);
  
  
  heatRows.forEach((rowStr,r)=>{
    const row=rowStr.replace(/ /g,'');
    const w=(hx1-hx0)/row.length;
    for(let c=0;c<row.length;c++){
      const v=-1+Number(row[c])/3;
      const cell = mk('rect',{x:(hx0+c*w).toFixed(2),y:(hy0+r*rowH).toFixed(2),width:(w+.4).toFixed(2),height:(rowH+.4).toFixed(2),fill:heatColor(v)},cells);
      
      
    }
  });
  const g = T(P,832,2687,'Groups',{size:27,weight:'bold',mono:true,len:99,fill:'#222'});
  
  
  heatLabels.forEach((s,r)=>{
    const l = T(P,832,(hy0+(r+.5)*rowH+8).toFixed(1),s,{size:28,mono:true,weight:'bold',len:s.length*16.6,fill:'#3a3a3a'});
    
    
  });
  const cb = mk('rect',{x:1297,y:2680,width:16,height:197,fill:'url(#cbar)'},P);
  
  
  [['2',2680],['1.5',2710],['1',2738],['0.5',2768],['0',2796],['-0.5',2825],['-1',2853]].forEach(a=>{
    const l = T(P,1319,a[1]+5,a[0],{size:13,mono:true,fill:'#777'});
    
    
  });
  const lt = T(P,1362,2689,'Groups',{size:14,weight:'bold',mono:true,len:50,fill:'#444'});
  
  
  [['#0ecb5b',2691,'C1'],['#f6709a',2708,'C2'],['#6fb0f0',2720,'C3']].forEach(a=>{
    const r = mk('rect',{x:1362,y:a[1],width:15,height:a[2]==='C2'?12:a[2]==='C1'?17:16,fill:a[0]},P);
    
    
    const l = T(P,1380,a[1]+11,a[2],{size:12,mono:true,fill:'#888'});
    
    
  });
})();

/* ---------- Panel E: stacked bars ---------- */
(function(){
  const P = document.getElementById('panelE2');
  const x0=1488,x1=2346,y0=2710,y1=3681;
  const py = p => y1 - (p/100)*(y1-y0);
  const bg = mk('rect',{x:x0,y:2691,width:x1-x0,height:1039,fill:'#f3f3f3'},P);
  
  
  const clip = mk('clipPath',{id:'stackClip'},P);
  mk('rect',{x:x0,y:y0,width:x1-x0,height:y1-y0},clip);
  const clipG = mk('g',{'clip-path':'url(#stackClip)'},P);
  
  
  const marks = mk('g',{filter:'url(#soft2)'},clipG);
  
  
  const n=stackBands[0].length, w=(x1-x0)/n, sub=4;
  for(let c=0;c<n;c++){
    let total=0;
    stackBands.forEach(b=>{total+=b[c];});
    let acc=0;
    stackBands.forEach((b,k)=>{
      const h=b[c]/total*100;
      const nextHue=k<bandHueIndex.length-1?bandHueIndex[k+1]:bandHueIndex[k]+1;
      for(let s=0;s<sub;s++){
        const top=py(100-acc-h*s/sub), bot=py(100-acc-h*(s+1)/sub);
        const hue=bandHueIndex[k]+(nextHue-bandHueIndex[k])*s/sub;
        const seg = mk('rect',{x:(x0+c*w).toFixed(2),y:top.toFixed(2),width:(w+.3).toFixed(2),height:Math.max(0,bot-top+.4).toFixed(2),fill:hueColor(hue,36)},marks);
        
        
      }
      acc+=h;
    });
  }
  percentTicks.forEach(p=>{
    const t = mk('line',{x1:x0-8,x2:x0,y1:py(p),y2:py(p),stroke:'#555','stroke-width':2.5},P);
    
    
    const l = T(P,x0-14,py(p)+7,p+'%',{size:21,anchor:'end',fill:'#666'});
    
    
  });
  const yt = T(P,1409,3195,'Percent',{size:30,anchor:'middle',rot:-90,len:80,fill:'#222'});
  
  
  const tt = T(P,2387,2782,'Type',{size:30,len:54,fill:'#222'});
  
  
  const perCol=19;
  typeLabels.forEach((s,i)=>{
    const col=i<perCol?0:1, r=col?i-perCol:i;
    const sxx=col?2802:2388, txx=col?2857:2444, cy=2819+r*44.16;
    const sw = mk('rect',{x:sxx,y:cy-21,width:40,height:42,fill:hueColor(i,38)},P);
    
    
    const l = T(P,txx,cy+7,s,{size:22.7,sy:1.25,fill:'#222'});
    
    
  });
  const pl = T(P,1568,3878,'E',{size:86});
  
  
})();
</script>
</body>
</html>
